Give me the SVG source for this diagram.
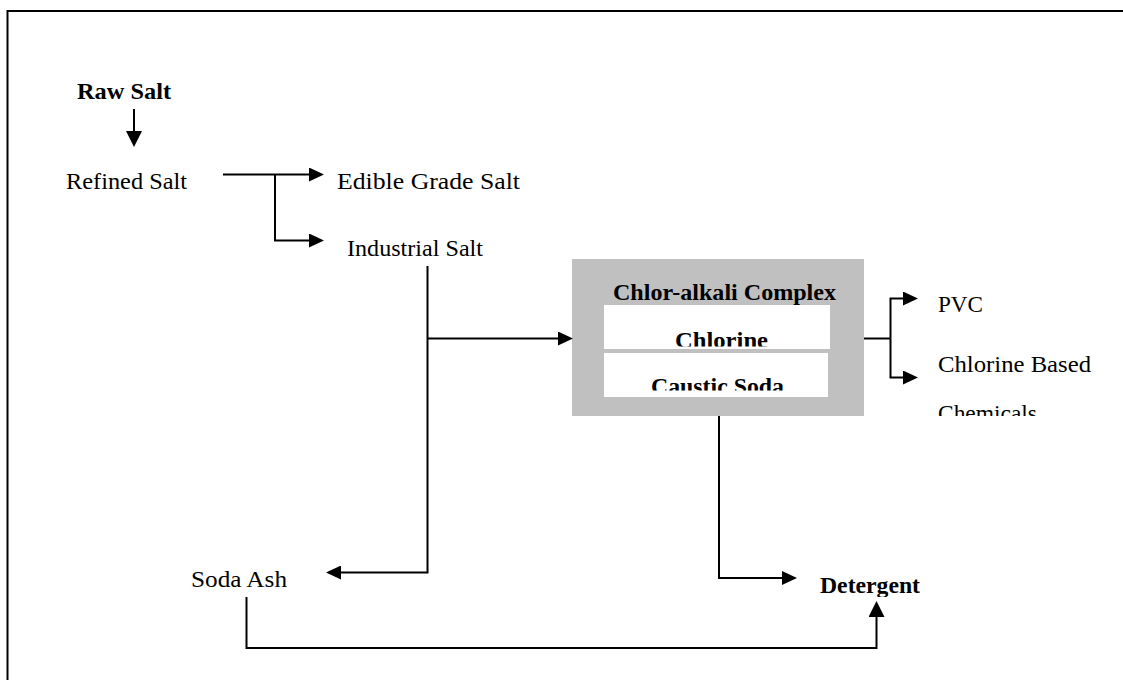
<svg xmlns="http://www.w3.org/2000/svg" width="1123" height="680" viewBox="0 0 1123 680">
<style>
.t{font-family:"Liberation Serif","Times New Roman",serif;font-size:24px;fill:#000}
.b{font-weight:bold}
.ln{fill:none;stroke:#000;stroke-width:2;stroke-linejoin:miter}
</style>
<defs>
<marker id="ah" viewBox="0 0 15 14" refX="0" refY="7" markerWidth="15" markerHeight="14" markerUnits="userSpaceOnUse" orient="auto">
<path d="M0,0 L15,7 L0,14 Z" fill="#000"/>
</marker>
<marker id="ahv" viewBox="0 0 16 16" refX="0" refY="8" markerWidth="16" markerHeight="16" markerUnits="userSpaceOnUse" orient="auto">
<path d="M0,0 L16,8 L0,16 Z" fill="#000"/>
</marker>
<clipPath id="cChl"><rect x="604" y="305" width="226" height="41.5"/></clipPath>
<clipPath id="cCau"><rect x="604" y="353" width="224" height="37.5"/></clipPath>
<clipPath id="cChem"><rect x="930" y="380" width="180" height="36"/></clipPath>
<clipPath id="cDet"><rect x="810" y="560" width="120" height="37"/></clipPath>
</defs>

<path id="frame" d="M7.5,680 V11 H1123" fill="none" stroke="#000" stroke-width="2"/>

<g id="node-raw-salt"><text class="t b" x="77" y="99" textLength="94" lengthAdjust="spacingAndGlyphs">Raw Salt</text></g>
<g id="node-refined-salt"><text class="t" x="66" y="189" textLength="121" lengthAdjust="spacingAndGlyphs">Refined Salt</text></g>
<g id="node-edible"><text class="t" x="337" y="189" textLength="183" lengthAdjust="spacingAndGlyphs">Edible Grade Salt</text></g>
<g id="node-industrial"><text class="t" x="347" y="256" textLength="136" lengthAdjust="spacingAndGlyphs">Industrial Salt</text></g>

<g id="node-chlor-alkali">
<rect x="572" y="259" width="292" height="157" fill="#c0c0c0"/>
<text class="t b" x="613" y="300" textLength="223" lengthAdjust="spacingAndGlyphs">Chlor-alkali Complex</text>
<rect x="604" y="305" width="226" height="44" fill="#fff"/>
<rect x="604" y="353" width="224" height="44" fill="#fff"/>
<g clip-path="url(#cChl)"><text class="t b" x="675" y="348" textLength="93" lengthAdjust="spacingAndGlyphs">Chlorine</text></g>
<g clip-path="url(#cCau)"><text class="t b" x="651" y="394" textLength="133" lengthAdjust="spacingAndGlyphs">Caustic Soda</text></g>
</g>

<g id="node-pvc"><text class="t" x="938" y="312" textLength="45" lengthAdjust="spacingAndGlyphs">PVC</text></g>
<g id="node-chlorine-based">
<text class="t" x="938" y="372" textLength="153" lengthAdjust="spacingAndGlyphs">Chlorine Based</text>
<g clip-path="url(#cChem)"><text class="t" x="938" y="421" textLength="99" lengthAdjust="spacingAndGlyphs">Chemicals</text></g>
</g>

<g id="node-soda-ash"><text class="t" x="191" y="587" textLength="96" lengthAdjust="spacingAndGlyphs">Soda Ash</text></g>
<g id="node-detergent"><g clip-path="url(#cDet)"><text class="t b" x="820" y="593" textLength="100" lengthAdjust="spacingAndGlyphs">Detergent</text></g></g>

<g id="connectors">
<path class="ln" d="M134,109 V131" marker-end="url(#ahv)"/>
<path class="ln" d="M223,174.5 H309" marker-end="url(#ah)"/>
<path class="ln" d="M275,174.5 V240.5 H309" marker-end="url(#ah)"/>
<path class="ln" d="M427.5,266 V572.5 H341" marker-end="url(#ah)"/>
<path class="ln" d="M427.5,338.5 H558" marker-end="url(#ah)"/>
<path class="ln" d="M864,338.5 H890.5"/>
<path class="ln" d="M890.5,338.5 V298.5 H903" marker-end="url(#ah)"/>
<path class="ln" d="M890.5,338.5 V377.5 H903" marker-end="url(#ah)"/>
<path class="ln" d="M719,416 V578 H782" marker-end="url(#ah)"/>
<path class="ln" d="M246.5,597 V648 H876.5 V617" marker-end="url(#ahv)"/>
</g>
</svg>
